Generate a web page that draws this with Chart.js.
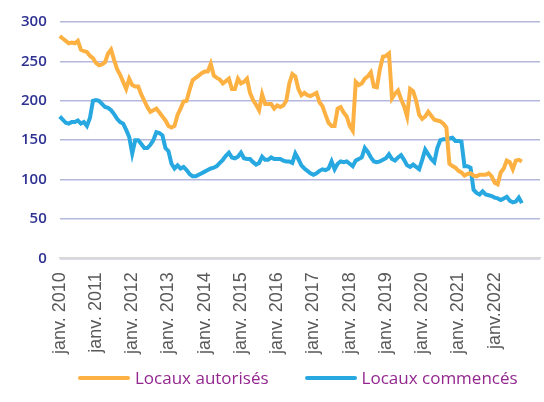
<!DOCTYPE html>
<html>
<head>
<meta charset="utf-8">
<script src="https://cdn.jsdelivr.net/npm/chart.js@4"></script>
<style>
    body { margin: 0; background: #fff; }
    #wrap { width: 544px; height: 402px; position: relative; }
    #legend { position: absolute; left: 78px; top: 366px; display: flex; gap: 36px;
              font-family: 'Open Sans', sans-serif; font-size: 17px; color: #93278f; white-space: nowrap; }
    #legend .item { display: flex; align-items: center; gap: 5px; }
    #legend .swatch { width: 52px; height: 4px; border-radius: 2px; }
</style>
</head>
<body>
<div id="wrap">
    <canvas id="locauxChart"></canvas>
    <div id="legend"></div>
</div>
<script>
// Étiquettes des années (un repère par mois de janvier)
const yearLabels = ['janv. 2010', 'janv. 2011', 'janv. 2012', 'janv. 2013', 'janv. 2014', 'janv. 2015',
    'janv. 2016', 'janv. 2017', 'janv. 2018', 'janv. 2019', 'janv. 2020', 'janv. 2021', 'janv.2022'];

// Locaux autorisés, série mensuelle depuis janv. 2010
const autorises = [
    282, 279, 276, 273, 274, 273, 276, 265, 263, 262, 257, 254,
    248, 245, 246, 249, 260, 265, 252, 240, 233, 224, 215, 228,
    220, 218, 218, 208, 200, 192, 186, 188, 190, 185, 180, 175,
    168, 166, 168, 182, 190, 199, 200, 214, 226, 229, 232, 235,
    237, 237, 247, 232, 229, 227, 222, 225, 228, 215, 215, 228,
    222, 224, 228, 210, 201, 195, 188, 208, 196, 196, 196, 190,
    194, 192, 194, 200, 222, 234, 231, 215, 207, 210, 207, 206,
    208, 210, 198, 193, 182, 172, 168, 168, 190, 192, 185, 180,
    168, 162, 224, 220, 222, 228, 231, 236, 218, 217, 240, 256,
    257, 260, 203, 209, 213, 202, 193, 180, 215, 212, 200, 182,
    177, 180, 186, 181, 176, 175, 174, 171, 166, 120, 117, 115,
    111, 109, 105, 107, 108, 105, 104, 106, 106, 106, 108, 104,
    96, 94, 109, 114, 124, 122, 113, 124, 125, 123
];

// Locaux commencés
const commences = [
    180, 176, 172, 171, 173, 173, 175, 171, 173, 168, 178, 200,
    201, 200, 196, 192, 191, 188, 183, 177, 173, 171, 163, 154,
    133, 150, 150, 145, 140, 140, 144, 150, 160, 159, 156, 140,
    136, 120, 114, 118, 114, 116, 112, 107, 104, 104, 106, 108,
    110, 112, 114, 115, 117, 121, 125, 130, 134, 128, 127, 129,
    134, 127, 126, 126, 122, 119, 121, 129, 125, 125, 128, 126,
    126, 126, 124, 123, 123, 121, 133, 126, 118, 114, 111, 108,
    106, 108, 111, 113, 112, 114, 123, 113, 120, 123, 122, 123,
    120, 117, 124, 126, 128, 140, 135, 128, 123, 122, 123, 125,
    127, 132, 126, 124, 128, 131, 125, 118, 116, 119, 116, 113,
    125, 138, 132, 126, 122, 140, 150, 151, 151, 152, 153, 149,
    149, 148, 117, 117, 115, 87, 83, 81, 85, 81, 80, 79,
    77, 76, 74, 76, 78, 73, 71, 72, 77, 70
];

// l'axe va un peu au-delà des dernières données (160 mois)
const nbMois = 160;
const months = [];
for (let i = 0; i < nbMois; i++) {
    months.push(i % 12 === 0 && yearLabels[i / 12] ? yearLabels[i / 12] : '');
}

const ctx = document.getElementById('locauxChart');

const chart = new Chart(ctx, {
    type: 'line',
    data: {
        labels: months,
        datasets: [{
            label: 'Locaux autorisés',
            data: autorises,
            borderColor: '#fdb143',
            backgroundColor: '#fdb143',
            borderWidth: 4,
            pointRadius: 0,
            tension: 0
        }, {
            label: 'Locaux commencés',
            data: commences,
            borderColor: '#27a8e0',
            backgroundColor: '#27a8e0',
            borderWidth: 4,
            pointRadius: 0,
            tension: 0
        }]
    },
    options: {
        responsive: true,
        maintainAspectRatio: false,
        animation: false,
        layout: { padding: { top: 20, right: 4, left: 8, bottom: 34 } },
        plugins: {
            tooltip: { enabled: false },
            legend: { display: false }
        },
        scales: {
            x: {
                // pas de marge à droite réservée pour les étiquettes vides
                afterFit: scale => { scale.paddingRight = 0; },
                grid: { display: false, drawTicks: false },
                border: { display: true, color: '#d9d9d9', width: 2 },
                ticks: {
                    autoSkip: false,
                    maxRotation: 90,
                    minRotation: 90,
                    padding: 14,
                    color: '#595959',
                    font: { family: 'Liberation Sans', size: 18 }
                }
            },
            y: {
                min: 0,
                max: 300,
                grid: {
                    drawTicks: false,
                    color: '#b5b8dd',
                    lineWidth: 1.5
                },
                border: { display: false },
                ticks: {
                    stepSize: 50,
                    padding: 13,
                    color: '#2e3192',
                    font: { family: 'Open Sans', size: 15, weight: '600' }
                }
            }
        }
    }
});

// Légende HTML construite à partir des séries
const legendEl = document.getElementById('legend');
chart.data.datasets.forEach(ds => {
    const item = document.createElement('div');
    item.className = 'item';
    const sw = document.createElement('span');
    sw.className = 'swatch';
    sw.style.background = ds.borderColor;
    const txt = document.createElement('span');
    txt.textContent = ds.label;
    item.appendChild(sw);
    item.appendChild(txt);
    legendEl.appendChild(item);
});
</script>
</body>
</html>
